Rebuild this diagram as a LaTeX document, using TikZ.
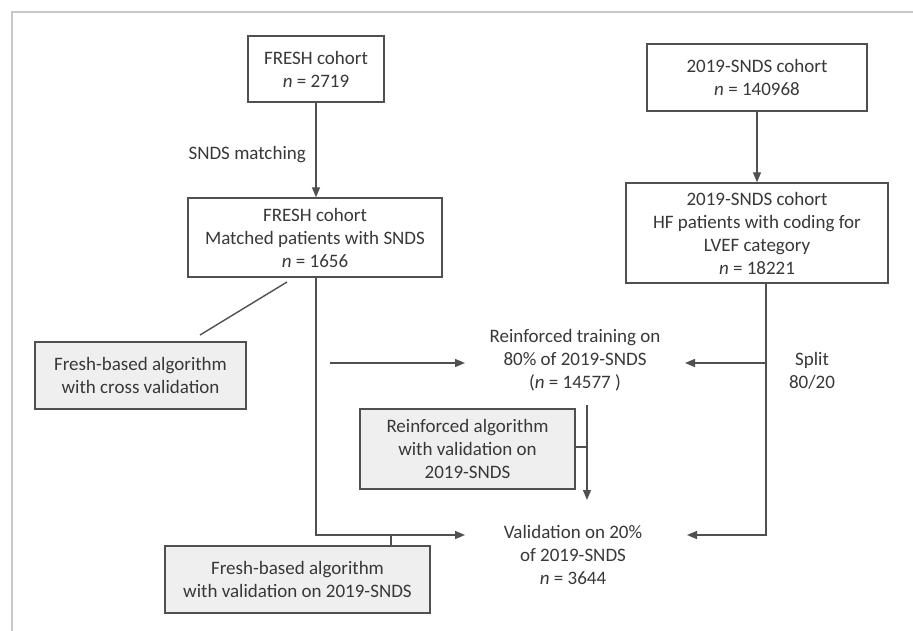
\documentclass[tikz,border=0pt]{standalone}
\usepackage{fontspec}
\setmainfont{Carlito}
\usetikzlibrary{arrows.meta}
\definecolor{linegray}{HTML}{505050}
\definecolor{textgray}{HTML}{383838}
\definecolor{boxfill}{HTML}{EFEFEF}
\definecolor{framegray}{HTML}{C8C8C8}
\begin{document}
\begin{tikzpicture}[x=1pt,y=-1pt,
  txt/.style={align=center, inner sep=0pt, text=textgray, font=\fontsize{19}{23}\selectfont},
  box/.style={txt, draw=linegray, line width=1.4pt},
  graybox/.style={box, fill=boxfill},
  conn/.style={draw=linegray, line width=1.4pt},
  arr/.style={conn, -{Triangle[length=10pt,width=8pt]}}
]
\useasboundingbox (0,0) rectangle (913,631);
\fill[white] (0,0) rectangle (913,631);
\draw[framegray, line width=2pt] (12,631) -- (12,12) -- (913,12);

% boxes
\node[box, minimum width=136pt, minimum height=66pt] (fresh) at (316,69) {FRESH cohort\\\textit{n} = 2719};
\node[box, minimum width=220pt, minimum height=67pt] (snds1) at (757,77.5) {2019-SNDS cohort\\\textit{n} = 140968};
\node[box, minimum width=254pt, minimum height=79pt] (matched) at (315,237.5) {FRESH cohort\\Matched patients with SNDS\\\textit{n} = 1656};
\node[box, minimum width=262pt, minimum height=100pt] (snds2) at (757,233) {2019-SNDS cohort\\HF patients with coding for\\LVEF category\\\textit{n} = 18221};
\node[graybox, minimum width=211pt, minimum height=67pt] (crossv) at (140.5,375.5) {Fresh-based algorithm\\with cross validation};
\node[graybox, minimum width=215pt, minimum height=80pt] (reinfalg) at (467.5,449) {Reinforced algorithm\\with validation on\\2019-SNDS};
\node[graybox, minimum width=265pt, minimum height=67pt] (freshval) at (297.5,579.5) {Fresh-based algorithm\\with validation on 2019-SNDS};

% free texts
\node[txt] (train) at (575,360) {Reinforced training on\\80\% of 2019-SNDS\\(\textit{n} = 14577 )};
\node[txt] (valid) at (573,555) {Validation on 20\%\\of 2019-SNDS\\\textit{n} = 3644};
\node[txt] (split) at (812,371) {Split\\80/20};
\node[txt, anchor=east] (sndsmatch) at (306,155) {SNDS matching};

% coordinates
\coordinate (d1) at (287,282);
\coordinate (d2) at (200,335);
\coordinate (trstart) at (330,363);
\coordinate (trin) at (465,363);
\coordinate (valin) at (465,535);
\coordinate (splitx) at (766,283);
\coordinate (sp1) at (766,363);
\coordinate (trin2) at (685,363);
\coordinate (valin2) at (687,535);
\coordinate (ra1) at (587,405);
\coordinate (ra2) at (587,500);
\coordinate (rtick) at (587,447);
\coordinate (ftick) at (391,535);

% connectors
\draw[arr] (fresh.south) -- (fresh.south |- matched.north);
\draw[arr] (snds1.south) -- (snds2.north);
\draw[conn] (d1) -- (d2);
\draw[arr] (fresh.south |- matched.south) |- (valin);
\draw[arr] (trstart) -- (trin);
\draw[arr] (splitx) |- (valin2);
\draw[arr] (sp1) -- (trin2);
\draw[arr] (ra1) -- (ra2);
\draw[conn] (reinfalg.east |- rtick) -- (rtick);
\draw[conn] (ftick) -- (ftick |- freshval.north);
\end{tikzpicture}
\end{document}
